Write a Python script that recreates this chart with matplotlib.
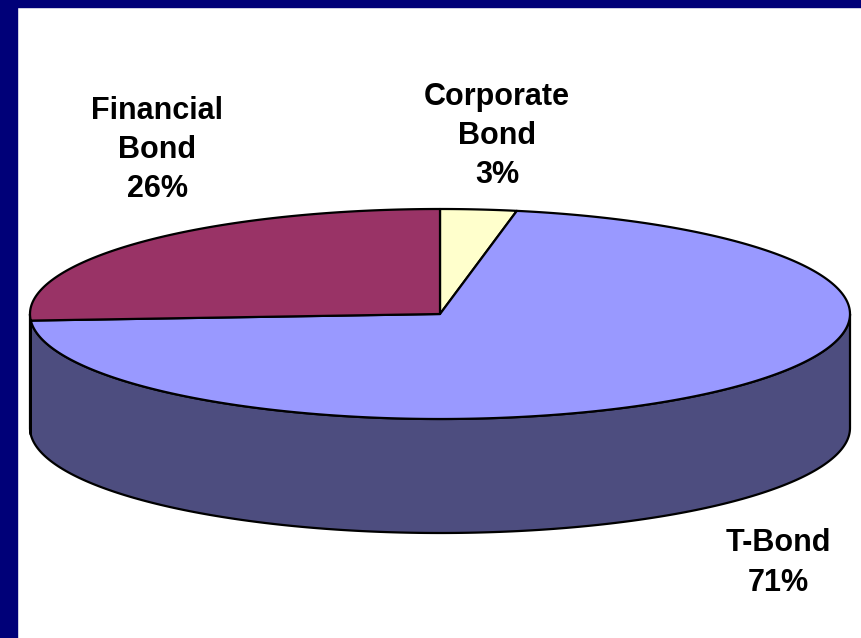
import numpy as np
import matplotlib
matplotlib.use("Agg")
import matplotlib.pyplot as plt
from matplotlib.patches import Polygon, Rectangle

# ---- data ----
categories = ["Corporate\nBond", "T-Bond", "Financial\nBond"]
values = [3, 71, 26]
top_colors = ["#FFFFCC", "#9999FF", "#993366"]
side_colors = ["#7F7F66", "#4D4D7F", "#4C1933"]

# ---- layout (pixels) ----
W, H = 861, 638
cx, cy, rx, ry, depth = 440, 314, 410, 105, 114
start_angle = 90.0
label_pos = [(497, 136), (778, 563), (157, 150)]

fig = plt.figure(figsize=(W / 100, H / 100), dpi=100)
ax = fig.add_axes([0, 0, 1, 1])
ax.set_xlim(0, W)
ax.set_ylim(H, 0)
ax.axis("off")

# frame
fig.patch.set_facecolor("white")
ax.add_patch(Rectangle((0, 0), 17, H, color="#000078", zorder=0))
ax.add_patch(Rectangle((0, 0), W, 7, color="#000078", zorder=0))


def pt(t, dy=0.0):
    r = np.radians(t)
    return cx + rx * np.cos(r), cy - ry * np.sin(r) + dy


total = float(sum(values))
angles = []
a = start_angle
for v in values:
    span = 360.0 * v / total
    angles.append((a - span, a))  # clockwise from a
    a -= span

# side walls (front half: angles 180..360 mod 360)
for (a1, a2), sc in zip(angles, side_colors):
    for shift in (-360, 0, 360):
        lo = max(a1 + shift, -180)
        hi = min(a2 + shift, 0)
        if hi > lo:
            ts = np.linspace(lo, hi, 200)
            top = [pt(t) for t in ts]
            bot = [pt(t, depth) for t in ts[::-1]]
            ax.add_patch(Polygon(top + bot, closed=True, facecolor=sc,
                                 edgecolor="black", lw=1.6, zorder=2,
                                 joinstyle="round"))

# top faces
for (a1, a2), tc in zip(angles, top_colors):
    ts = np.linspace(a1, a2, 300)
    pts = [(cx, cy)] + [pt(t) for t in ts]
    ax.add_patch(Polygon(pts, closed=True, facecolor=tc, edgecolor="black",
                         lw=1.6, zorder=3, joinstyle="round"))

# labels
for cat, v, (lx, ly) in zip(categories, values, label_pos):
    ax.text(lx, ly, f"{cat}\n{v}%", ha="center", va="center",
            fontsize=22, fontweight="bold", family="Liberation Sans",
            linespacing=1.4, color="black", zorder=5)

fig.savefig("out.png", dpi=100)
